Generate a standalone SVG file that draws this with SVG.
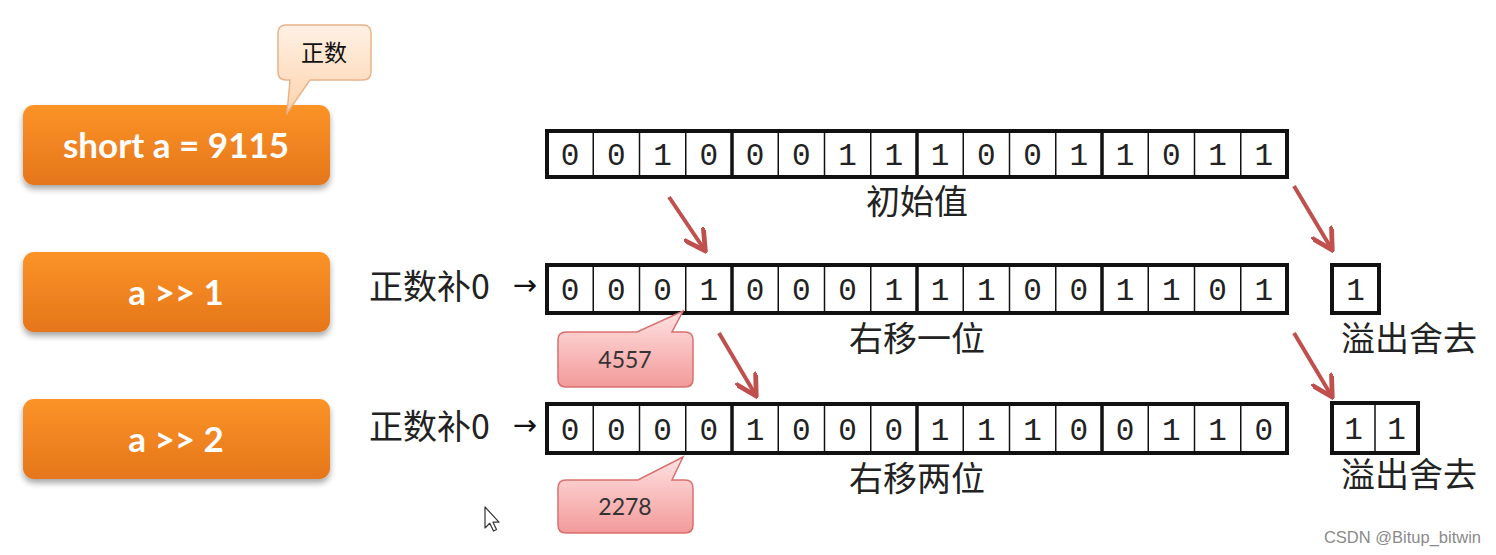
<svg xmlns="http://www.w3.org/2000/svg" width="1496" height="555" viewBox="0 0 1496 555">
<defs>
  <linearGradient id="og" x1="0" y1="0" x2="0" y2="1">
    <stop offset="0" stop-color="#fb9328"/>
    <stop offset="1" stop-color="#e5761a"/>
  </linearGradient>
  <linearGradient id="pg" x1="0" y1="0" x2="0" y2="1">
    <stop offset="0" stop-color="#fff1e4"/>
    <stop offset="1" stop-color="#fcd3ad"/>
  </linearGradient>
  <linearGradient id="rg" x1="0" y1="0" x2="0" y2="1">
    <stop offset="0" stop-color="#ffe2e2"/>
    <stop offset="1" stop-color="#f39a9a"/>
  </linearGradient>
  <filter id="sh" x="-10%" y="-20%" width="120%" height="150%">
    <feGaussianBlur in="SourceAlpha" stdDeviation="3"/>
    <feOffset dx="0" dy="4"/>
    <feComponentTransfer><feFuncA type="linear" slope="0.35"/></feComponentTransfer>
    <feMerge><feMergeNode/><feMergeNode in="SourceGraphic"/></feMerge>
  </filter>
  <marker id="ah" viewBox="0 0 10 10" refX="8" refY="5" markerWidth="6" markerHeight="6" orient="auto" markerUnits="strokeWidth">
    <path d="M0,0 L9,5 L0,10" fill="none" stroke="#c0504d" stroke-width="2"/>
  </marker>
  <g id="cursor">
    <path d="M0,0 L0,21 L4.8,16.3 L8.5,24 L11.5,22.5 L8,15.2 L14,15.2 Z" fill="#fff" stroke="#333" stroke-width="1.2" stroke-linejoin="round"/>
  </g>
</defs>
<style>
  .ob{fill:url(#og);}
  .ot{font-family:Lato,"Open Sans","Liberation Sans",sans-serif;font-weight:bold;font-size:35px;fill:#fff;text-anchor:middle;}
  .cell{fill:#fff;stroke:#111;stroke-width:1.5;}
  .outer{fill:none;stroke:#111;stroke-width:4;}
  .sep{stroke:#111;stroke-width:3.5;}
  .bit{font-family:"Liberation Mono","DejaVu Sans Mono",monospace;font-size:31px;fill:#222;text-anchor:middle;}
  .zh{font-family:"Noto Sans CJK SC","Noto Sans",sans-serif;font-size:34px;fill:#222;}
  .arr{stroke:#c0504d;stroke-width:4;fill:none;}
  .pk{fill:url(#rg);stroke:#d9706f;stroke-width:1.5;}
  .pkt{font-family:Lato,"Liberation Sans",sans-serif;font-size:23px;fill:#333;text-anchor:middle;}
</style>

<!-- Orange nodes -->
<g id="node-short">
  <rect class="ob" x="23" y="105" width="307" height="80" rx="11" filter="url(#sh)"/>
  <text class="ot" x="176" y="158">short a = 9115</text>
</g>
<g id="node-shift1">
  <rect class="ob" x="23" y="252" width="307" height="80" rx="11" filter="url(#sh)"/>
  <text class="ot" x="176" y="305">a &gt;&gt; 1</text>
</g>
<g id="node-shift2">
  <rect class="ob" x="23" y="399" width="307" height="80" rx="11" filter="url(#sh)"/>
  <text class="ot" x="176" y="452">a &gt;&gt; 2</text>
</g>

<!-- 正数 callout -->
<g id="callout-positive">
  <path d="M286,25 H363 Q371,25 371,33 V72 Q371,80 363,80 H310 L287,113 L290,80 H286 Q278,80 278,72 V33 Q278,25 286,25 Z" fill="url(#pg)" stroke="#e8b48a" stroke-width="1.5"/>
  <text x="324" y="61" font-family="'Noto Sans CJK SC',sans-serif" font-size="23" fill="#111" text-anchor="middle">正数</text>
</g>

<!-- Row 1 -->
<g id="row-initial">
  <rect class="cell" x="547" y="131" width="740" height="46"/>
  <g stroke="#111" stroke-width="1.5">
    <line x1="593.25" y1="131" x2="593.25" y2="177"/><line x1="639.5" y1="131" x2="639.5" y2="177"/><line x1="685.75" y1="131" x2="685.75" y2="177"/>
    <line x1="778.25" y1="131" x2="778.25" y2="177"/><line x1="824.5" y1="131" x2="824.5" y2="177"/><line x1="870.75" y1="131" x2="870.75" y2="177"/>
    <line x1="963.25" y1="131" x2="963.25" y2="177"/><line x1="1009.5" y1="131" x2="1009.5" y2="177"/><line x1="1055.75" y1="131" x2="1055.75" y2="177"/>
    <line x1="1148.25" y1="131" x2="1148.25" y2="177"/><line x1="1194.5" y1="131" x2="1194.5" y2="177"/><line x1="1240.75" y1="131" x2="1240.75" y2="177"/>
  </g>
  <line class="sep" x1="732" y1="131" x2="732" y2="177"/><line class="sep" x1="917" y1="131" x2="917" y2="177"/><line class="sep" x1="1102" y1="131" x2="1102" y2="177"/>
  <rect class="outer" x="547" y="131" width="740" height="46"/>
  <g class="bit">
    <text x="570.1" y="165">0</text><text x="616.4" y="165">0</text><text x="662.6" y="165">1</text><text x="708.9" y="165">0</text>
    <text x="755.1" y="165">0</text><text x="801.4" y="165">0</text><text x="847.6" y="165">1</text><text x="893.9" y="165">1</text>
    <text x="940.1" y="165">1</text><text x="986.4" y="165">0</text><text x="1032.6" y="165">0</text><text x="1078.9" y="165">1</text>
    <text x="1125.1" y="165">1</text><text x="1171.4" y="165">0</text><text x="1217.6" y="165">1</text><text x="1263.9" y="165">1</text>
  </g>
  <text class="zh" x="917" y="214" text-anchor="middle">初始值</text>
</g>

<!-- Row 2 -->
<g id="row-shift1">
  <text class="zh" x="369" y="299">正数补0</text>
  <text x="525" y="295" font-family="'DejaVu Sans',sans-serif" font-size="29" fill="#111" text-anchor="middle">→</text>
  <rect class="cell" x="547" y="265" width="740" height="48"/>
  <g stroke="#111" stroke-width="1.5">
    <line x1="593.25" y1="265" x2="593.25" y2="313"/><line x1="639.5" y1="265" x2="639.5" y2="313"/><line x1="685.75" y1="265" x2="685.75" y2="313"/>
    <line x1="778.25" y1="265" x2="778.25" y2="313"/><line x1="824.5" y1="265" x2="824.5" y2="313"/><line x1="870.75" y1="265" x2="870.75" y2="313"/>
    <line x1="963.25" y1="265" x2="963.25" y2="313"/><line x1="1009.5" y1="265" x2="1009.5" y2="313"/><line x1="1055.75" y1="265" x2="1055.75" y2="313"/>
    <line x1="1148.25" y1="265" x2="1148.25" y2="313"/><line x1="1194.5" y1="265" x2="1194.5" y2="313"/><line x1="1240.75" y1="265" x2="1240.75" y2="313"/>
  </g>
  <line class="sep" x1="732" y1="265" x2="732" y2="313"/><line class="sep" x1="917" y1="265" x2="917" y2="313"/><line class="sep" x1="1102" y1="265" x2="1102" y2="313"/>
  <rect class="outer" x="547" y="265" width="740" height="48"/>
  <g class="bit">
    <text x="570.1" y="300">0</text><text x="616.4" y="300">0</text><text x="662.6" y="300">0</text><text x="708.9" y="300">1</text>
    <text x="755.1" y="300">0</text><text x="801.4" y="300">0</text><text x="847.6" y="300">0</text><text x="893.9" y="300">1</text>
    <text x="940.1" y="300">1</text><text x="986.4" y="300">1</text><text x="1032.6" y="300">0</text><text x="1078.9" y="300">0</text>
    <text x="1125.1" y="300">1</text><text x="1171.4" y="300">1</text><text x="1217.6" y="300">0</text><text x="1263.9" y="300">1</text>
  </g>
  <text class="zh" x="917" y="351" text-anchor="middle">右移一位</text>
</g>
<g id="overflow1">
  <rect class="cell" x="1332" y="265" width="47" height="48"/>
  <rect class="outer" x="1332" y="265" width="47" height="48"/>
  <text class="bit" x="1355.5" y="300">1</text>
  <text class="zh" x="1409" y="351" text-anchor="middle">溢出舍去</text>
</g>

<!-- Row 3 -->
<g id="row-shift2">
  <text class="zh" x="369" y="439">正数补0</text>
  <text x="525" y="435" font-family="'DejaVu Sans',sans-serif" font-size="29" fill="#111" text-anchor="middle">→</text>
  <rect class="cell" x="547" y="404" width="740" height="49"/>
  <g stroke="#111" stroke-width="1.5">
    <line x1="593.25" y1="404" x2="593.25" y2="453"/><line x1="639.5" y1="404" x2="639.5" y2="453"/><line x1="685.75" y1="404" x2="685.75" y2="453"/>
    <line x1="778.25" y1="404" x2="778.25" y2="453"/><line x1="824.5" y1="404" x2="824.5" y2="453"/><line x1="870.75" y1="404" x2="870.75" y2="453"/>
    <line x1="963.25" y1="404" x2="963.25" y2="453"/><line x1="1009.5" y1="404" x2="1009.5" y2="453"/><line x1="1055.75" y1="404" x2="1055.75" y2="453"/>
    <line x1="1148.25" y1="404" x2="1148.25" y2="453"/><line x1="1194.5" y1="404" x2="1194.5" y2="453"/><line x1="1240.75" y1="404" x2="1240.75" y2="453"/>
  </g>
  <line class="sep" x1="732" y1="404" x2="732" y2="453"/><line class="sep" x1="917" y1="404" x2="917" y2="453"/><line class="sep" x1="1102" y1="404" x2="1102" y2="453"/>
  <rect class="outer" x="547" y="404" width="740" height="49"/>
  <g class="bit">
    <text x="570.1" y="440">0</text><text x="616.4" y="440">0</text><text x="662.6" y="440">0</text><text x="708.9" y="440">0</text>
    <text x="755.1" y="440">1</text><text x="801.4" y="440">0</text><text x="847.6" y="440">0</text><text x="893.9" y="440">0</text>
    <text x="940.1" y="440">1</text><text x="986.4" y="440">1</text><text x="1032.6" y="440">1</text><text x="1078.9" y="440">0</text>
    <text x="1125.1" y="440">0</text><text x="1171.4" y="440">1</text><text x="1217.6" y="440">1</text><text x="1263.9" y="440">0</text>
  </g>
  <text class="zh" x="917" y="491" text-anchor="middle">右移两位</text>
</g>
<g id="overflow2">
  <rect class="cell" x="1332" y="403" width="86" height="50"/>
  <line x1="1375" y1="403" x2="1375" y2="453" stroke="#111" stroke-width="1.5"/>
  <rect class="outer" x="1332" y="403" width="86" height="50"/>
  <text class="bit" x="1353.5" y="439">1</text><text class="bit" x="1396.5" y="439">1</text>
  <text class="zh" x="1409" y="487" text-anchor="middle">溢出舍去</text>
</g>

<!-- Pink callouts -->
<g id="callout-4557">
  <path d="M566,332 H637 L683,311 L672,332 H685 Q693,332 693,340 V379 Q693,387 685,387 H566 Q558,387 558,379 V340 Q558,332 566,332 Z" class="pk"/>
  <text class="pkt" x="625" y="368">4557</text>
</g>
<g id="callout-2278">
  <path d="M566,480 H638 L683,457 L672,480 H685 Q693,480 693,488 V525 Q693,533 685,533 H566 Q558,533 558,525 V488 Q558,480 566,480 Z" class="pk"/>
  <text class="pkt" x="625" y="515">2278</text>
</g>

<!-- Connectors -->
<g id="connectors">
  <line class="arr" x1="669" y1="197" x2="704" y2="249" marker-end="url(#ah)"/>
  <line class="arr" x1="1294" y1="186" x2="1331" y2="248" marker-end="url(#ah)"/>
  <line class="arr" x1="719" y1="333" x2="755" y2="394" marker-end="url(#ah)"/>
  <line class="arr" x1="1294" y1="333" x2="1331" y2="395" marker-end="url(#ah)"/>
</g>

<use href="#cursor" x="485" y="507"/>

<text x="1481" y="543" font-family="'Liberation Sans',Arial,sans-serif" font-size="16.5" fill="#8a8a8a" text-anchor="end">CSDN @Bitup_bitwin</text>
</svg>
